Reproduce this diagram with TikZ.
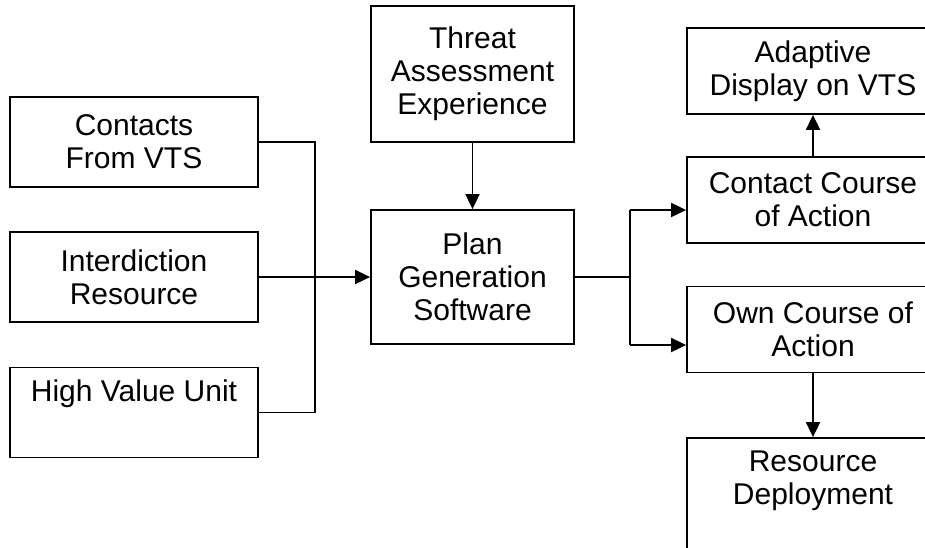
\documentclass[tikz,border=0pt]{standalone}
\usepackage{fontspec}
\setmainfont{Liberation Sans}
\usetikzlibrary{arrows.meta}
\begin{document}
\begin{tikzpicture}[x=1pt,y=-1pt,
  box/.style={draw, line width=1.8pt, rectangle, align=center, inner sep=0pt,
    font=\fontsize{30}{33}\selectfont},
  conn/.style={line width=1.8pt},
  arr/.style={conn, -{Triangle[length=15pt,width=14pt]}}]
\useasboundingbox (0,0) rectangle (925,547);
\clip (0,0) rectangle (925,547);
% left inputs
\node[box, minimum width=248pt, minimum height=90pt] (contacts) at (134,142) {Contacts\\From VTS};
\node[box, minimum width=248pt, minimum height=90pt] (interd) at (134,277) {Interdiction\\Resource};
\node[box, minimum width=248pt, minimum height=90pt] (hvu) at (134,412.5) {High Value Unit\\\strut};
% centre
\node[box, minimum width=203pt, minimum height=136pt] (threat) at (472.5,74) {Threat\\Assessment\\Experience};
\node[box, minimum width=203pt, minimum height=134pt] (plan) at (472.5,277) {Plan\\Generation\\Software};
% right
\node[box, minimum width=252pt, minimum height=86pt] (adapt) at (813,71) {Adaptive\\Display on VTS};
\node[box, minimum width=252pt, minimum height=86pt] (ccoa) at (813,200) {Contact Course\\of Action};
\node[box, minimum width=252pt, minimum height=86pt] (ocoa) at (813,329.5) {Own Course of\\Action};
\node[box, minimum width=252pt, minimum height=130pt] (res) at (813,503) {};
\node[font=\fontsize{30}{33}\selectfont, align=center, inner sep=0pt] (restext) at (813,481) {Resource\\Deployment};
% bus
\coordinate (bus) at (315,277);
\coordinate (branch) at (630,277);
\draw[conn] (contacts.east) -| (bus |- hvu.east) -- (hvu.east);
\draw[arr] (interd.east) -- (plan.west);
\draw[arr] (threat.south) -- (plan.north);
\draw[conn] (plan.east) -- (branch);
\coordinate (b1) at (630,210);
\coordinate (b2) at (630,345);
\draw[arr] (b1) -- (b1 -| ccoa.west);
\draw[arr] (b2) -- (b2 -| ocoa.west);
\draw[conn] (b1) -- (b2);
\draw[arr] (ccoa.north) -- (adapt.south);
\draw[arr] (ocoa.south) -- (res.north);
\end{tikzpicture}
\end{document}
